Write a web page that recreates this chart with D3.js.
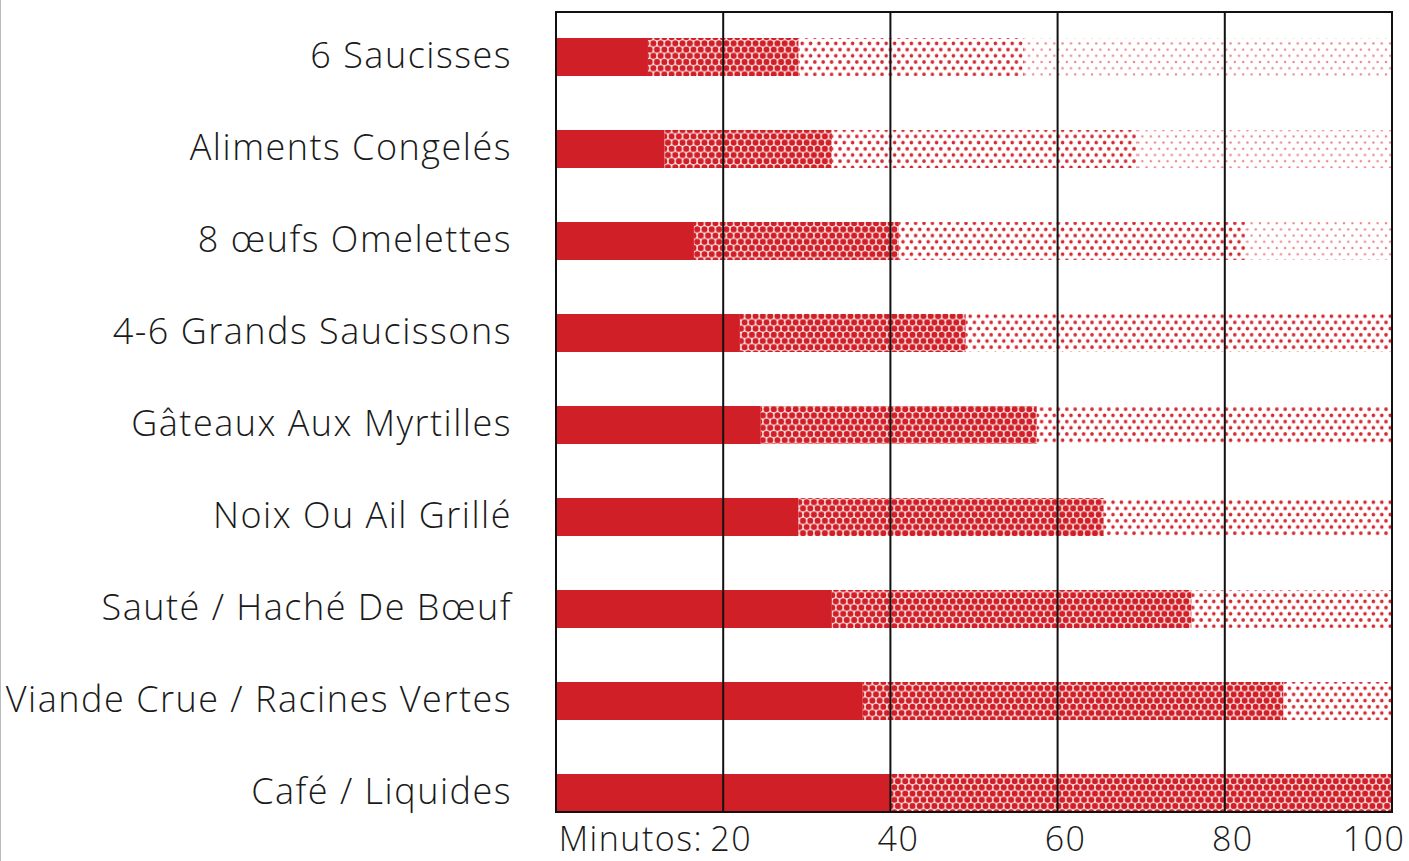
<!DOCTYPE html>
<html>
<head>
<meta charset="utf-8">
<script src="https://cdn.jsdelivr.net/npm/d3@7"></script>
<style>
  html, body { margin: 0; padding: 0; background: #fff; }
  svg { display: block; }
  .cat-label, .tick-label { font-family: "Open Sans", "Noto Sans", sans-serif; font-weight: 300; fill: #1a1a1a; letter-spacing: 1.5px; }
</style>
</head>
<body>
<svg id="chart" width="1409" height="861"></svg>
<script>
// Chart data
const categories = [
    '6 Saucisses',
    'Aliments Congelés',
    '8 œufs Omelettes',
    '4-6 Grands Saucissons',
    'Gâteaux Aux Myrtilles',
    'Noix Ou Ail Grillé',
    'Sauté / Haché De Bœuf',
    'Viande Crue / Racines Vertes',
    'Café / Liquides'
];
// end of each stage, in minutes
const solidEnd  = [11, 13, 16.5, 22, 24.5, 29, 33, 36.7, 40];
const denseEnd  = [29, 33, 41, 49, 57.5, 65.5, 76, 87, 100];
const mediumEnd = [56, 69.5, 82.5, 100, 100, 100, 100, 100, 100];
const sparseEnd = [100, 100, 100, 100, 100, 100, 100, 100, 100];
const tickValues = [20, 40, 60, 80, 100];

const red = '#d11f27';
const stages = ['solid', 'dense', 'medium', 'sparse'];

// Layout
const plot = { left: 556, right: 1392, top: 12, bottom: 812 };

const svg = d3.select('#chart');

// Patterns
const defs = svg.append('defs');

function dotPattern(id, w, h, r, opacity, bg) {
    const p = defs.append('pattern')
        .attr('id', id)
        .attr('patternUnits', 'userSpaceOnUse')
        .attr('width', w)
        .attr('height', h);
    if (bg) p.append('rect').attr('width', w).attr('height', h).attr('fill', bg);
    const pts = [[0, 0], [w, 0], [w / 2, h / 2], [0, h], [w, h]];
    pts.forEach(pt => {
        p.append('circle')
            .attr('cx', pt[0])
            .attr('cy', pt[1])
            .attr('r', r)
            .attr('fill', red)
            .attr('fill-opacity', opacity);
    });
}
dotPattern('pat-dense', 7.3, 12.4, 3.05, 1, '#fbe9ea');
dotPattern('pat-medium', 8.4, 12.4, 1.8, 0.95, null);
dotPattern('pat-sparse', 8.4, 12.4, 1.2, 0.55, null);

const fills = {
    solid: red,
    dense: 'url(#pat-dense)',
    medium: 'url(#pat-medium)',
    sparse: 'url(#pat-sparse)'
};

// Scales
const x = d3.scaleLinear()
    .domain([0, 100])
    .range([plot.left, plot.right]);

const y = d3.scalePoint()
    .domain(categories)
    .range([57, 793]);

const barH = 38;

// Build segments
const segments = [];
categories.forEach((c, i) => {
    const ends = [solidEnd[i], denseEnd[i], mediumEnd[i], sparseEnd[i]];
    let start = 0;
    stages.forEach((s, j) => {
        if (ends[j] > start) {
            segments.push({ category: c, stage: s, start: start, end: ends[j] });
            start = ends[j];
        }
    });
});

// Left border line
svg.append('line')
    .attr('x1', 0.5).attr('x2', 0.5)
    .attr('y1', 0).attr('y2', 861)
    .attr('stroke', '#bbb')
    .attr('stroke-width', 1);

// Bars
svg.append('g')
    .selectAll('rect')
    .data(segments)
    .enter()
    .append('rect')
    .attr('x', d => x(d.start))
    .attr('y', d => y(d.category) - barH / 2)
    .attr('width', d => x(d.end) - x(d.start))
    .attr('height', barH)
    .attr('fill', d => fills[d.stage]);

// Gridlines
svg.append('g')
    .selectAll('line')
    .data(tickValues.filter(v => v < 100))
    .enter()
    .append('line')
    .attr('x1', d => x(d))
    .attr('x2', d => x(d))
    .attr('y1', plot.top)
    .attr('y2', plot.bottom)
    .attr('stroke', '#111')
    .attr('stroke-width', 2);

// Frame
svg.append('rect')
    .attr('x', plot.left)
    .attr('y', plot.top)
    .attr('width', plot.right - plot.left)
    .attr('height', plot.bottom - plot.top)
    .attr('fill', 'none')
    .attr('stroke', '#111')
    .attr('stroke-width', 2);

// Category labels
svg.append('g')
    .selectAll('text')
    .data(categories)
    .enter()
    .append('text')
    .attr('class', 'cat-label')
    .attr('x', 512)
    .attr('y', d => y(d) - 3)
    .attr('dominant-baseline', 'central')
    .attr('text-anchor', 'end')
    .attr('font-size', 36)
    .text(d => d);

// Tick labels
svg.append('g')
    .selectAll('text')
    .data(tickValues)
    .enter()
    .append('text')
    .attr('class', 'tick-label')
    .attr('x', d => d === 100 ? x(d) - 18 : x(d) + 8)
    .attr('y', 851)
    .attr('text-anchor', 'middle')
    .attr('font-size', 34)
    .text(d => d);

svg.append('text')
    .attr('class', 'tick-label')
    .attr('x', x(20) - 20)
    .attr('y', 851)
    .attr('text-anchor', 'end')
    .attr('font-size', 34)
    .text('Minutos:');
</script>
</body>
</html>
